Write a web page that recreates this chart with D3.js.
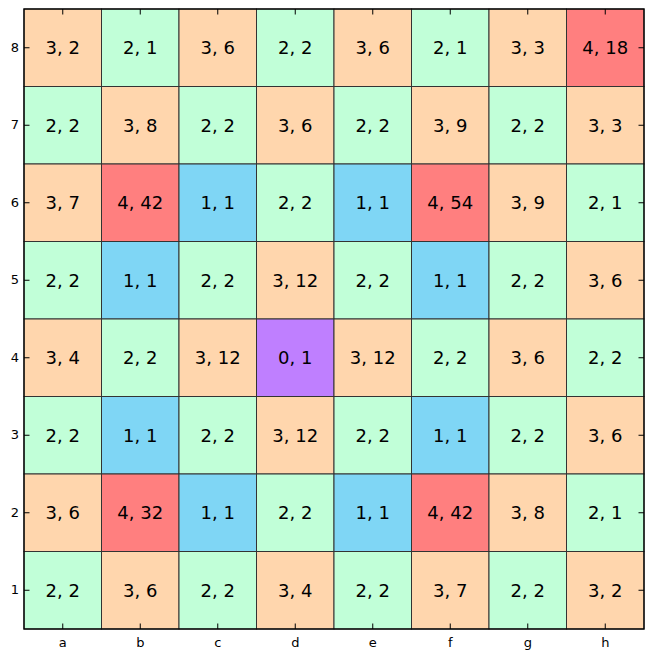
<!DOCTYPE html>
<html><head><meta charset="utf-8">
<script src="https://cdn.jsdelivr.net/npm/d3@7"></script>
<style>body{margin:0;background:#fff}</style>
</head><body>
<svg id="c" width="654" height="659"></svg>
<script>
const files = ["a","b","c","d","e","f","g","h"];
const ranks = ["1","2","3","4","5","6","7","8"];
// rows listed from rank 8 (top) to rank 1 (bottom); each cell "first, second"
const firstVals = [
  [3,2,3,2,3,2,3,4],
  [2,3,2,3,2,3,2,3],
  [3,4,1,2,1,4,3,2],
  [2,1,2,3,2,1,2,3],
  [3,2,3,0,3,2,3,2],
  [2,1,2,3,2,1,2,3],
  [3,4,1,2,1,4,3,2],
  [2,3,2,3,2,3,2,3]
];
const secondVals = [
  [2,1,6,2,6,1,3,18],
  [2,8,2,6,2,9,2,3],
  [7,42,1,2,1,54,9,1],
  [2,1,2,12,2,1,2,6],
  [4,2,12,1,12,2,6,2],
  [2,1,2,12,2,1,2,6],
  [6,32,1,2,1,42,8,1],
  [2,6,2,4,2,7,2,2]
];
const rowRanks = ["8","7","6","5","4","3","2","1"];
const colorMap = {0:"#bf7fff",1:"#7fd6f5",2:"#c1ffd8",3:"#ffd6ad",4:"#ff7f7f"};

const svg = d3.select("#c");
const L=24, T=9, W=620, H=620;
const x = d3.scaleBand().domain(files).range([L, L+W]);
const y = d3.scaleBand().domain(ranks.slice().reverse()).range([T, T+H]);

const cells = [];
rowRanks.forEach((r,i)=>files.forEach((f,j)=>cells.push({f, r, a:firstVals[i][j], b:secondVals[i][j]})));

const g = svg.append("g");
g.selectAll("rect.cell").data(cells).join("rect")
  .attr("x", d=>x(d.f)).attr("y", d=>y(d.r))
  .attr("width", x.bandwidth()).attr("height", y.bandwidth())
  .attr("fill", d=>colorMap[d.a])
  .attr("stroke", "#333").attr("stroke-width", 1);
g.selectAll("text.v").data(cells).join("text")
  .attr("x", d=>x(d.f)+x.bandwidth()/2).attr("y", d=>y(d.r)+y.bandwidth()/2)
  .attr("text-anchor","middle").attr("dominant-baseline","central")
  .style("font-family","'DejaVu Sans'").style("font-size","18px").attr("fill","#000")
  .text(d=>d.a+", "+d.b);

svg.append("rect").attr("x",L).attr("y",T).attr("width",W).attr("height",H)
  .attr("fill","none").attr("stroke","#000").attr("stroke-width",1.3);

const tl = 5.5;
svg.append("g").attr("transform",`translate(0,${T+H})`).call(d3.axisBottom(x).tickSize(-tl).tickPadding(9));
svg.append("g").attr("transform",`translate(0,${T})`).call(d3.axisTop(x).tickSize(-tl).tickFormat(""));
svg.append("g").attr("transform",`translate(${L},0)`).call(d3.axisLeft(y).tickSize(-tl).tickPadding(5));
svg.append("g").attr("transform",`translate(${L+W},0)`).call(d3.axisRight(y).tickSize(-tl).tickFormat(""));
svg.selectAll(".domain").remove();
svg.selectAll(".tick line").attr("stroke","#000");
svg.selectAll(".tick text").style("font-family","'DejaVu Sans'").style("font-size","13px").attr("fill","#000");
</script>
</body></html>
